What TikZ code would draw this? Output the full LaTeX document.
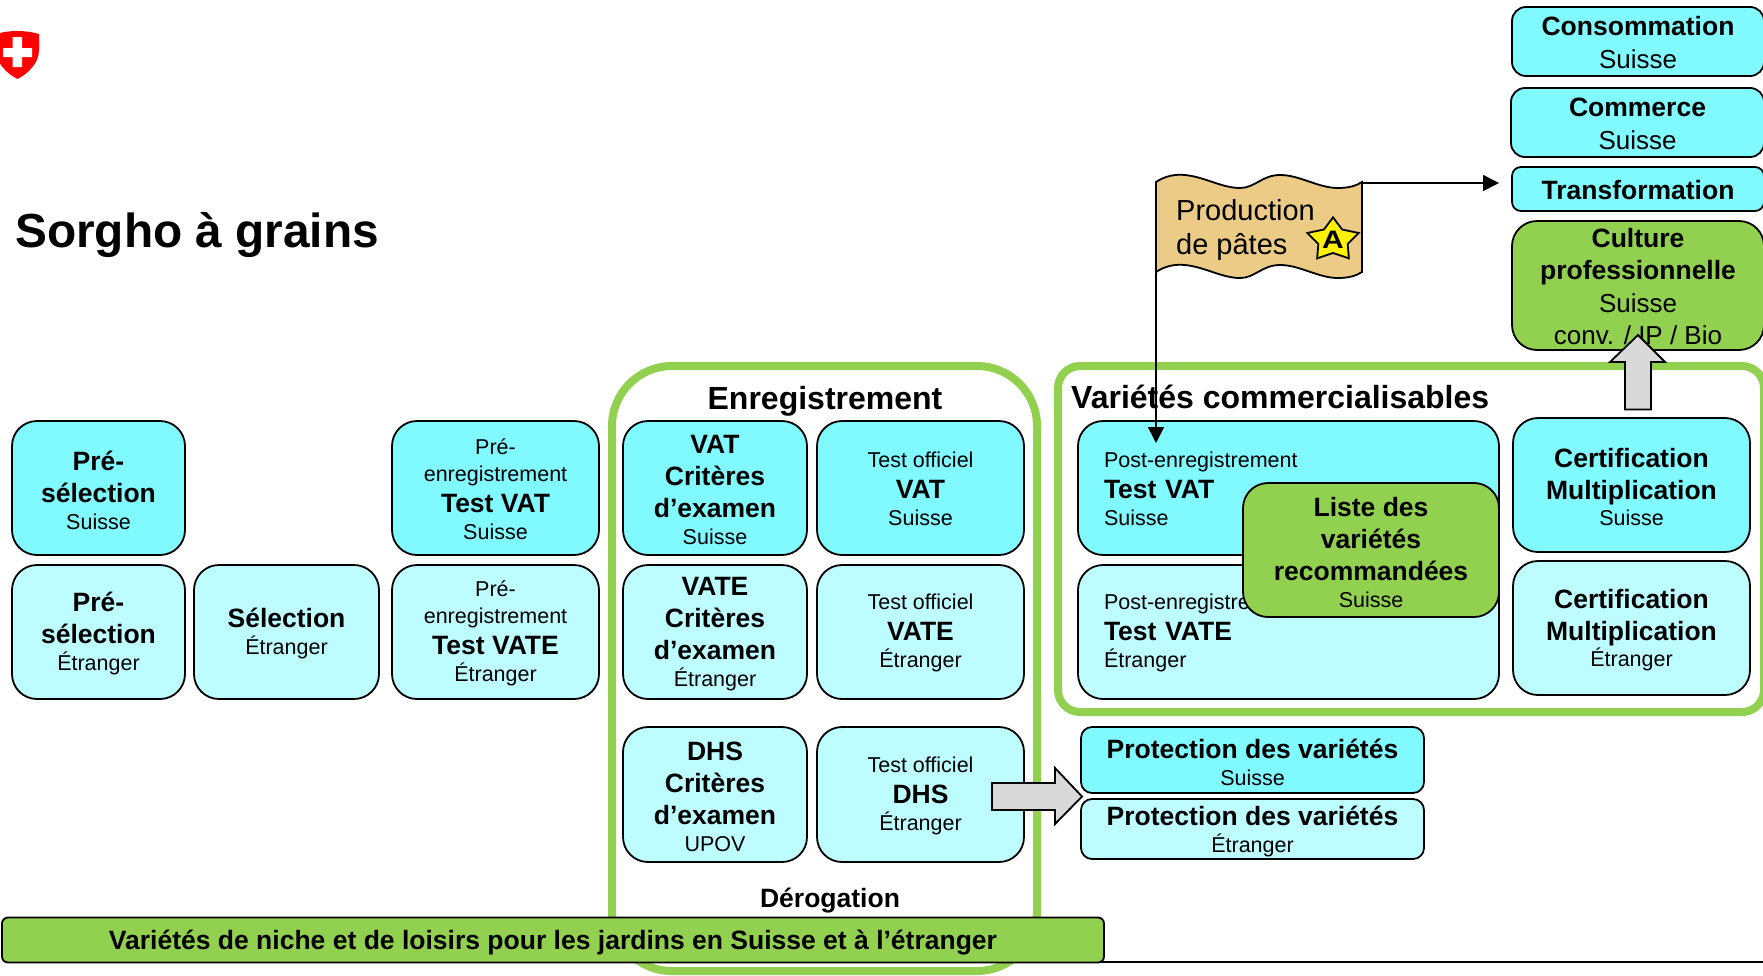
\documentclass[tikz,border=0pt]{standalone}
\usepackage{fontspec}
\setmainfont{Liberation Sans}
\usetikzlibrary{arrows.meta, shapes.geometric}

\definecolor{swisscyan}{HTML}{80F9FF}
\definecolor{foreigncyan}{HTML}{BDFCFF}
\definecolor{leafgreen}{HTML}{92D050}
\definecolor{arrowgrey}{HTML}{D9D9D9}
\definecolor{flagtan}{HTML}{EBCB86}
\newcommand{\subline}[1]{\raisebox{-1pt}[\height][\depth]{\fontsize{21.5}{26}\selectfont #1}}
\newcommand{\boldline}[1]{\raisebox{-3pt}[\height][\depth]{\fontsize{26.5}{32}\selectfont\bfseries #1}}
\newcommand{\topline}[1]{\raisebox{-1pt}[\height][\depth]{\fontsize{26.5}{32}\selectfont\bfseries #1}}
\newcommand{\plainline}[1]{\raisebox{-1.5pt}[\height][\depth]{#1}}

\tikzset{
  tile/.style={draw=black, line width=1.8pt, rounded corners=25pt, inner sep=0pt,
    align=center, font=\fontsize{26}{32}\selectfont},
  swiss/.style={tile, fill=swisscyan},
  foreign/.style={tile, fill=foreigncyan},
  crop/.style={tile, fill=leafgreen},
  frame/.style={draw=leafgreen, line width=8pt},
  blockarrow/.style={draw=black, fill=arrowgrey, line width=1.8pt, line join=miter},
  heading/.style={inner sep=0pt, font=\fontsize{32}{38}\selectfont\bfseries},
  link/.style={draw=black, line width=1.6pt, -{Triangle[length=16pt, width=16pt]}}
}

\begin{document}
\begin{tikzpicture}[x={(1pt, 0pt)}, y={(0pt, -1pt)}]
  \useasboundingbox (0, 0) rectangle (1763, 975);

  % shield
  \fill[red] (39, 34) .. controls (25, 30) and (9, 30) .. (-4, 34)
    -- (-4, 50) .. controls (-4, 64) and (8, 74) .. (17.5, 79)
    .. controls (27, 74) and (39, 64) .. (39, 50) -- cycle;
  \fill[white] (12.7, 37) -- (22, 37) -- (22, 48) -- (32, 48) -- (32, 57) -- (22, 57)
    -- (22, 67) -- (12.7, 67) -- (12.7, 57) -- (3, 57) -- (3, 48) -- (12.7, 48) -- cycle;
  \node[anchor=base west, inner sep=0pt, font=\fontsize{47.8}{58}\selectfont\bfseries] (title) at (15, 247) {Sorgho à grains};

  % frames
  \draw[frame, rounded corners=60pt] (612, 366) rectangle (1037, 971);
  \draw[frame, rounded corners=22pt] (1058, 366) rectangle (1764, 712);
  \node[heading] (enreg) at (825, 401) {Enregistrement};
  \node[heading, anchor=west] (commercial) at (1071, 397) {Variétés commercialisables};
  \node[inner sep=0pt, font=\fontsize{26.5}{32}\selectfont\bfseries] (derog) at (830, 900.5) {Dérogation};

  % tiles
  \foreach \n/\s/\x/\y/\w/\h/\t in {
      preCH/swiss/98.5/488/173/134/{\boldline{Pré-}\\\boldline{sélection}\\[-3pt]\subline{Suisse}},
      preET/foreign/98.5/632/173/134/{\boldline{Pré-}\\\boldline{sélection}\\[-3pt]\subline{Étranger}},
      selET/foreign/286.5/632/185/134/{\boldline{Sélection}\\[-3pt]\subline{Étranger}},
      penrCH/swiss/495.5/488/207/134/{\subline{Pré-}\\[-5pt]\subline{enregistrement}\\[-3pt]\boldline{Test VAT}\\[-3pt]\subline{Suisse}},
      penrET/foreign/495.5/632/207/134/{\subline{Pré-}\\[-5pt]\subline{enregistrement}\\[-3pt]\boldline{Test VATE}\\[-3pt]\subline{Étranger}},
      vatCrit/swiss/715/488/184/134/{\boldline{VAT}\\\boldline{Critères}\\\boldline{d’examen}\\[-3pt]\subline{Suisse}},
      vatTest/swiss/920.5/488/207/134/{\subline{Test officiel}\\[-3pt]\boldline{VAT}\\[-3pt]\subline{Suisse}},
      vateCrit/foreign/715/632/184/134/{\boldline{VATE}\\\boldline{Critères}\\\boldline{d’examen}\\[-3pt]\subline{Étranger}},
      vateTest/foreign/920.5/632/207/134/{\subline{Test officiel}\\[-3pt]\boldline{VATE}\\[-3pt]\subline{Étranger}},
      dhsCrit/foreign/715/794.5/184/135/{\boldline{DHS}\\\boldline{Critères}\\\boldline{d’examen}\\[-3pt]\subline{UPOV}},
      dhsTest/foreign/920.5/794.5/207/135/{\subline{Test officiel}\\[-3pt]\boldline{DHS}\\[-3pt]\subline{Étranger}},
      certCH/swiss/1631.5/485/237/134/{\boldline{Certification}\\[0.5pt]\boldline{Multiplication}\\[-4pt]\subline{Suisse}},
      certET/foreign/1631.5/628/237/134/{\boldline{Certification}\\[0.5pt]\boldline{Multiplication}\\[-4pt]\subline{Étranger}}} {
    \node[\s, minimum width=\w pt, minimum height=\h pt] (\n) at (\x, \y) {\t};
  }

  % post registration tiles, text on the left
  \foreach \n/\s/\y/\a/\b/\c in {postCH/swiss/488/Post-enregistrement/Test VAT/Suisse,
                                 postET/foreign/632/Post-enregistrement/Test VATE/Étranger} {
    \node[\s, align=left, text width=369pt, inner xsep=26pt, minimum height=134pt] (\n) at (1288.5, \y)
      {\subline{\a}\\[-3pt]\boldline{\b}\\[-3pt]\subline{\c}};
  }
  \node[crop, minimum width=256pt, minimum height=134pt] (liste) at (1371, 550)
    {\boldline{Liste des}\\\boldline{variétés}\\\boldline{recommandées}\\[-3pt]\subline{Suisse}};

  % protection
  \node[swiss, rounded corners=11pt, minimum width=343pt, minimum height=66pt] (protCH) at (1252.5, 760)
    {\boldline{Protection des variétés}\\[-3pt]\subline{Suisse}};
  \node[foreign, rounded corners=11pt, minimum width=343pt, minimum height=60pt] (protET) at (1252.5, 829)
    {\boldline{Protection des variétés}\\[-3pt]\subline{Étranger}};

  % top right column
  \node[swiss, rounded corners=14pt, minimum width=252pt, minimum height=69pt] (conso) at (1638, 41.5)
    {\topline{Consommation}\\\plainline{Suisse}};
  \node[swiss, rounded corners=14pt, minimum width=253pt, minimum height=69pt] (commerce) at (1637.5, 122.5)
    {\topline{Commerce}\\\plainline{Suisse}};
  \node[swiss, rounded corners=9pt, minimum width=252pt, minimum height=44pt] (transfo) at (1638, 189)
    {\topline{Transformation}};
  \node[crop, minimum width=252pt, minimum height=129pt] (culture) at (1638, 285.5)
    {\topline{Culture}\\\topline{professionnelle}\\\plainline{Suisse}\\\plainline{conv. / IP / Bio}};

  % bar at the foot
  \draw[black, line width=2pt] (190, 962) to (1763, 962);
  \node[crop, rounded corners=6pt, minimum width=1102pt, minimum height=45pt] (niche) at (553, 940)
    {\boldline{Variétés de niche et de loisirs pour les jardins en Suisse et à l’étranger}};

  % flag
  \coordinate (flagNE) at (1362, 183);
  \coordinate (flagSW) at (1156, 272);
  \coordinate (flagTarget) at (1499, 183);
  \coordinate (postTarget) at (1156, 443);
  \draw[black, line width=1.8pt, fill=flagtan] (1156, 182)
    .. controls (1165, 176) and (1175, 174) .. (1185, 175)
    .. controls (1205, 177) and (1222, 188) .. (1240, 188)
    .. controls (1255, 188) and (1262, 175) .. (1280, 175)
    .. controls (1300, 175) and (1318, 188) .. (1338, 188)
    .. controls (1348, 188) and (1356, 186) .. (1362, 182)
    -- (1362, 272)
    .. controls (1356, 276) and (1348, 278) .. (1338, 278)
    .. controls (1318, 278) and (1300, 265) .. (1280, 265)
    .. controls (1262, 265) and (1255, 278) .. (1240, 278)
    .. controls (1222, 278) and (1205, 267) .. (1185, 265)
    .. controls (1175, 264) and (1165, 266) .. (1156, 272) -- cycle;
  \node[anchor=west, inner sep=0pt, align=left, font=\fontsize{29}{34}\selectfont] (flagtext) at (1176, 229.5) {Production\\de pâtes};
  \node[star, star points=5, star point ratio=1.75, draw=black, line width=1.8pt, fill=yellow, inner sep=0pt,
        minimum size=54pt, yscale=0.84, transform shape, font=\fontsize{30}{32}\selectfont\bfseries] (badge) at (1333, 240) {A};
  \draw[link] (flagNE) to (flagTarget);
  \draw[link] (flagSW) to (postTarget);

  % block arrows
  \draw[blockarrow] (992, 783) -- (1055, 783) -- (1055, 768) -- (1082, 796.5) -- (1055, 824) -- (1055, 810) -- (992, 810) -- cycle;
  \draw[blockarrow] (1625, 409.5) -- (1625, 362) -- (1610, 362) -- (1638, 335) -- (1665, 362) -- (1651, 362) -- (1651, 409.5) -- cycle;
\end{tikzpicture}
\end{document}
